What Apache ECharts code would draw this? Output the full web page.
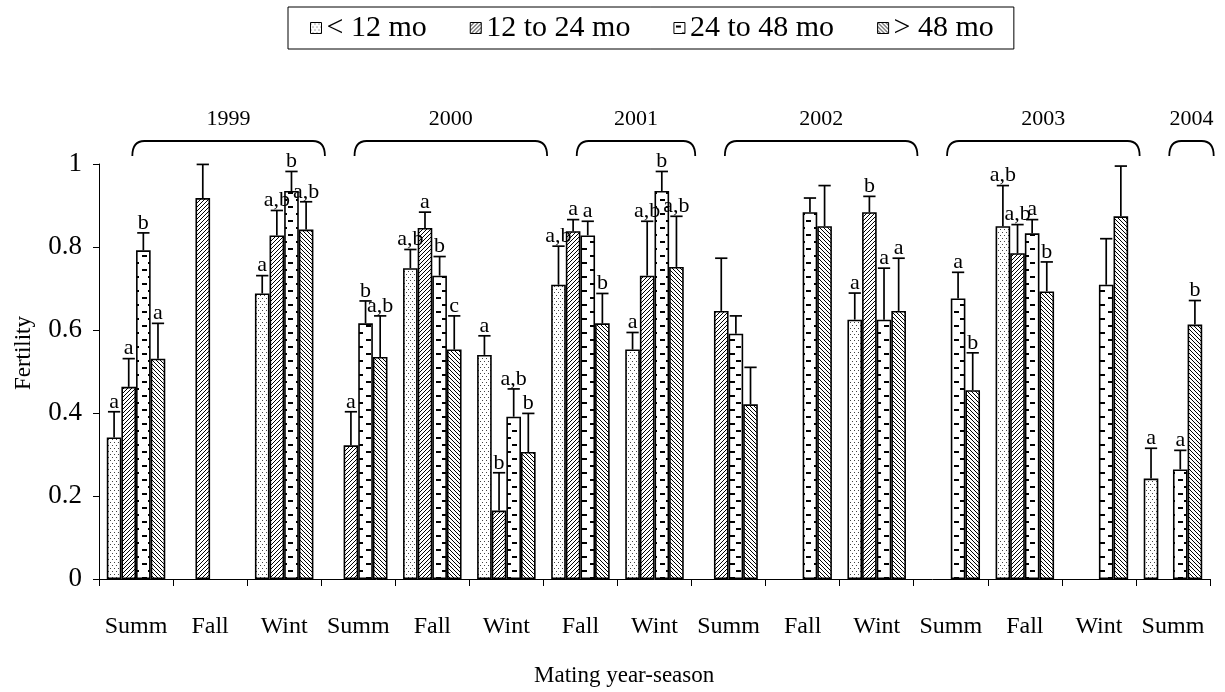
<!DOCTYPE html>
<html>
<head>
<meta charset="utf-8">
<script src="https://cdn.jsdelivr.net/npm/echarts@6/dist/echarts.min.js"></script>
<style>
html,body{margin:0;padding:0;background:#fff;}
#chart{width:1225px;height:692px;}
</style>
</head>
<body>
<div id="chart"></div>
<script>
// ---- data ----
const categories = ['Summ','Fall','Wint','Summ','Fall','Wint','Fall','Wint','Summ','Fall','Wint','Summ','Fall','Wint','Summ'];
const seriesNames = ['< 12 mo','12 to 24 mo','24 to 48 mo','> 48 mo'];

const lt12      = [0.341, null, 0.688, null, 0.749, 0.540, 0.709, 0.553, null, null, 0.625, null, 0.850, null, 0.242];
const lt12SE    = [0.062, null, 0.043, null, 0.045, 0.046, 0.093, 0.041, null, null, 0.064, null, 0.098, null, 0.073];
const lt12Lab   = ['a', '', 'a', '', 'a,b', 'a', 'a,b', 'a', '', '', 'a', '', 'a,b', '', 'a'];

const m12to24    = [0.463, 0.918, 0.828, 0.322, 0.846, 0.165, 0.838, 0.731, 0.646, null, 0.884, null, 0.785, null, null];
const m12to24SE  = [0.068, 0.081, 0.060, 0.081, 0.038, 0.091, 0.028, 0.131, 0.127, null, 0.038, null, 0.069, null, null];
const m12to24Lab = ['a', '', 'a,b', 'a', 'a', 'b', 'a', 'a,b', '', '', 'b', '', 'a,b', '', ''];

const m24to48    = [0.792, null, 0.935, 0.616, 0.731, 0.391, 0.828, 0.935, 0.591, 0.884, 0.625, 0.676, 0.833, 0.709, 0.264];
const m24to48SE  = [0.042, null, 0.047, 0.054, 0.046, 0.067, 0.034, 0.047, 0.043, 0.034, 0.124, 0.063, 0.033, 0.111, 0.046];
const m24to48Lab = ['b', '', 'b', 'b', 'b', 'a,b', 'a', 'b', '', '', 'a', 'a', 'a', '', 'a'];

const gt48      = [0.531, null, 0.842, 0.535, 0.553, 0.306, 0.616, 0.752, 0.421, 0.850, 0.646, 0.455, 0.693, 0.874, 0.613];
const gt48SE    = [0.085, null, 0.067, 0.099, 0.081, 0.093, 0.072, 0.122, 0.089, 0.098, 0.127, 0.090, 0.071, 0.121, 0.058];
const gt48Lab   = ['a', '', 'a,b', 'a,b', 'c', 'b', 'b', 'a,b', '', '', 'a', 'b', 'b', '', 'b'];

const years     = ['1999','2000','2001','2002','2003','2004'];
const yearStart = [0, 3, 6, 8, 11, 14];
const yearEnd   = [2, 5, 7, 10, 13, 14];

const yTicks = [0, 0.2, 0.4, 0.6, 0.8, 1];

// ---- styling helpers ----
const FONT = '"Liberation Serif", "Times New Roman", Times, serif';
const CAT_GAP = 0.21;

function pattern(kind) {
  const c = document.createElement('canvas');
  let ctx;
  if (kind === 'dots') {
    c.width = 4; c.height = 6; ctx = c.getContext('2d');
    ctx.fillStyle = '#fff'; ctx.fillRect(0,0,4,6);
    ctx.fillStyle = '#444';
    ctx.fillRect(0,1,1,1); ctx.fillRect(2,4,1,1);
  } else if (kind === 'fwd' || kind === 'back') {
    c.width = 4; c.height = 4; ctx = c.getContext('2d');
    ctx.fillStyle = '#fff'; ctx.fillRect(0,0,4,4);
    ctx.strokeStyle = '#000'; ctx.lineWidth = 1;
    ctx.beginPath();
    if (kind === 'fwd') {
      ctx.moveTo(-1,5); ctx.lineTo(5,-1);
      ctx.moveTo(-1,1); ctx.lineTo(1,-1);
      ctx.moveTo(3,5); ctx.lineTo(5,3);
    } else {
      ctx.moveTo(-1,-1); ctx.lineTo(5,5);
      ctx.moveTo(3,-1); ctx.lineTo(5,1);
      ctx.moveTo(-1,3); ctx.lineTo(1,5);
    }
    ctx.stroke();
  } else {
    c.width = 14; c.height = 14; ctx = c.getContext('2d');
    ctx.fillStyle = '#fff'; ctx.fillRect(0,0,14,14);
    ctx.fillStyle = '#000';
    ctx.fillRect(2,3,5,2); ctx.fillRect(8,10,5,2);
  }
  return { image: c, repeat: 'repeat' };
}
const patterns = [pattern('dots'), pattern('fwd'), pattern('dash'), pattern('back')];

const values = [lt12, m12to24, m24to48, gt48];
const ses = [lt12SE, m12to24SE, m24to48SE, gt48SE];
const labs = [lt12Lab, m12to24Lab, m24to48Lab, gt48Lab];

const errItems = [];
values.forEach((arr, s) => {
  arr.forEach((v, i) => {
    if (v != null) errItems.push({ cat: i, val: v, top: v + ses[s][i], s: s, lab: labs[s][i] });
  });
});

const barSeries = values.map((arr, s) => ({
  name: seriesNames[s],
  type: 'bar',
  data: arr,
  barGap: '0%',
  barCategoryGap: (CAT_GAP * 100) + '%',
  itemStyle: { color: patterns[s], borderColor: '#000', borderWidth: 1.6 },
  z: 2
}));

const errSeries = {
  type: 'custom',
  z: 5,
  silent: true,
  data: errItems.map(it => [it.cat, it.val, it.top]),
  renderItem: function (params, api) {
    const it = errItems[params.dataIndex];
    const band = api.size([1, 0])[0];
    const bw = band * (1 - CAT_GAP) / 4;
    const p0 = api.coord([it.cat, it.val]);
    const p1 = api.coord([it.cat, it.top]);
    const x = p0[0] + (it.s - 1.5) * bw;
    const cap = bw * 0.42;
    const children = [
      { type: 'line', shape: { x1: x, y1: p0[1], x2: x, y2: p1[1] }, style: { stroke: '#000', lineWidth: 1.7 } },
      { type: 'line', shape: { x1: x - cap, y1: p1[1], x2: x + cap, y2: p1[1] }, style: { stroke: '#000', lineWidth: 1.7 } }
    ];
    if (it.lab) {
      children.push({ type: 'text', style: { text: it.lab, x: x, y: p1[1] + 1, align: 'center', verticalAlign: 'bottom', fontSize: 22, fontFamily: FONT, fill: '#000' } });
    }
    return { type: 'group', children: children };
  }
};

const braceSeries = {
  type: 'custom',
  z: 5,
  silent: true,
  data: years.map((y, k) => [yearStart[k], 1, yearEnd[k]]),
  renderItem: function (params, api) {
    const k = params.dataIndex;
    const band = api.size([1, 0])[0];
    const a = api.coord([yearStart[k], 1]);
    const b = api.coord([yearEnd[k], 1]);
    const left = a[0] - 0.05 * band;
    const right = b[0] + 0.55 * band;
    const top = a[1] - 23;
    const r = 12;
    const d = `M${left},${top + 15} Q${left},${top} ${left + r},${top} L${right - r},${top} Q${right},${top} ${right},${top + 15}`;
    return {
      type: 'group',
      children: [
        { type: 'path', shape: { pathData: d }, style: { stroke: '#000', lineWidth: 1.8, fill: null } },
        { type: 'text', style: { text: years[k], x: (left + right) / 2, y: top - 22, align: 'center', verticalAlign: 'middle', fontSize: 22, fontFamily: FONT, fill: '#000' } }
      ]
    };
  }
};

const chart = echarts.init(document.getElementById('chart'), null, { renderer: 'canvas' });
chart.setOption({
  animation: false,
  backgroundColor: '#fff',
  textStyle: { fontFamily: FONT, color: '#000' },
  legend: {
    data: seriesNames,
    left: 288, top: 7,
    padding: [6, 20, 6, 22],
    borderColor: '#000', borderWidth: 1,
    itemWidth: 11, itemHeight: 11, itemGap: 43,
    icon: 'rect',
    textStyle: { fontFamily: FONT, fontSize: 30, color: '#000' },
    itemStyle: { borderColor: '#000', borderWidth: 1 }
  },
  grid: { left: 99, right: 15, top: 164, bottom: 113, containLabel: false },
  xAxis: {
    type: 'category',
    data: categories,
    axisLine: { lineStyle: { color: '#000', width: 1 } },
    axisTick: { show: true, length: 7, lineStyle: { color: '#000' } },
    axisLabel: { margin: 36, fontSize: 24, fontFamily: FONT, color: '#000', interval: 0 },
    splitLine: { show: false }
  },
  yAxis: {
    type: 'value',
    min: yTicks[0], max: yTicks[yTicks.length - 1], interval: 0.2,
    axisLine: { show: true, lineStyle: { color: '#000', width: 1 } },
    axisTick: { show: true, length: 6, lineStyle: { color: '#000' } },
    axisLabel: { margin: 17, fontSize: 27, fontFamily: FONT, color: '#000' },
    splitLine: { show: false }
  },
  graphic: [
    { type: 'text', left: 12, top: 316, rotation: Math.PI / 2, style: { text: 'Fertility', fontSize: 23, fontFamily: FONT, fill: '#000' } },
    { type: 'text', left: 534, top: 664, style: { text: 'Mating year-season', fontSize: 23, fontFamily: FONT, fill: '#000' } }
  ],
  series: barSeries.concat([errSeries, braceSeries])
});
</script>
</body>
</html>
